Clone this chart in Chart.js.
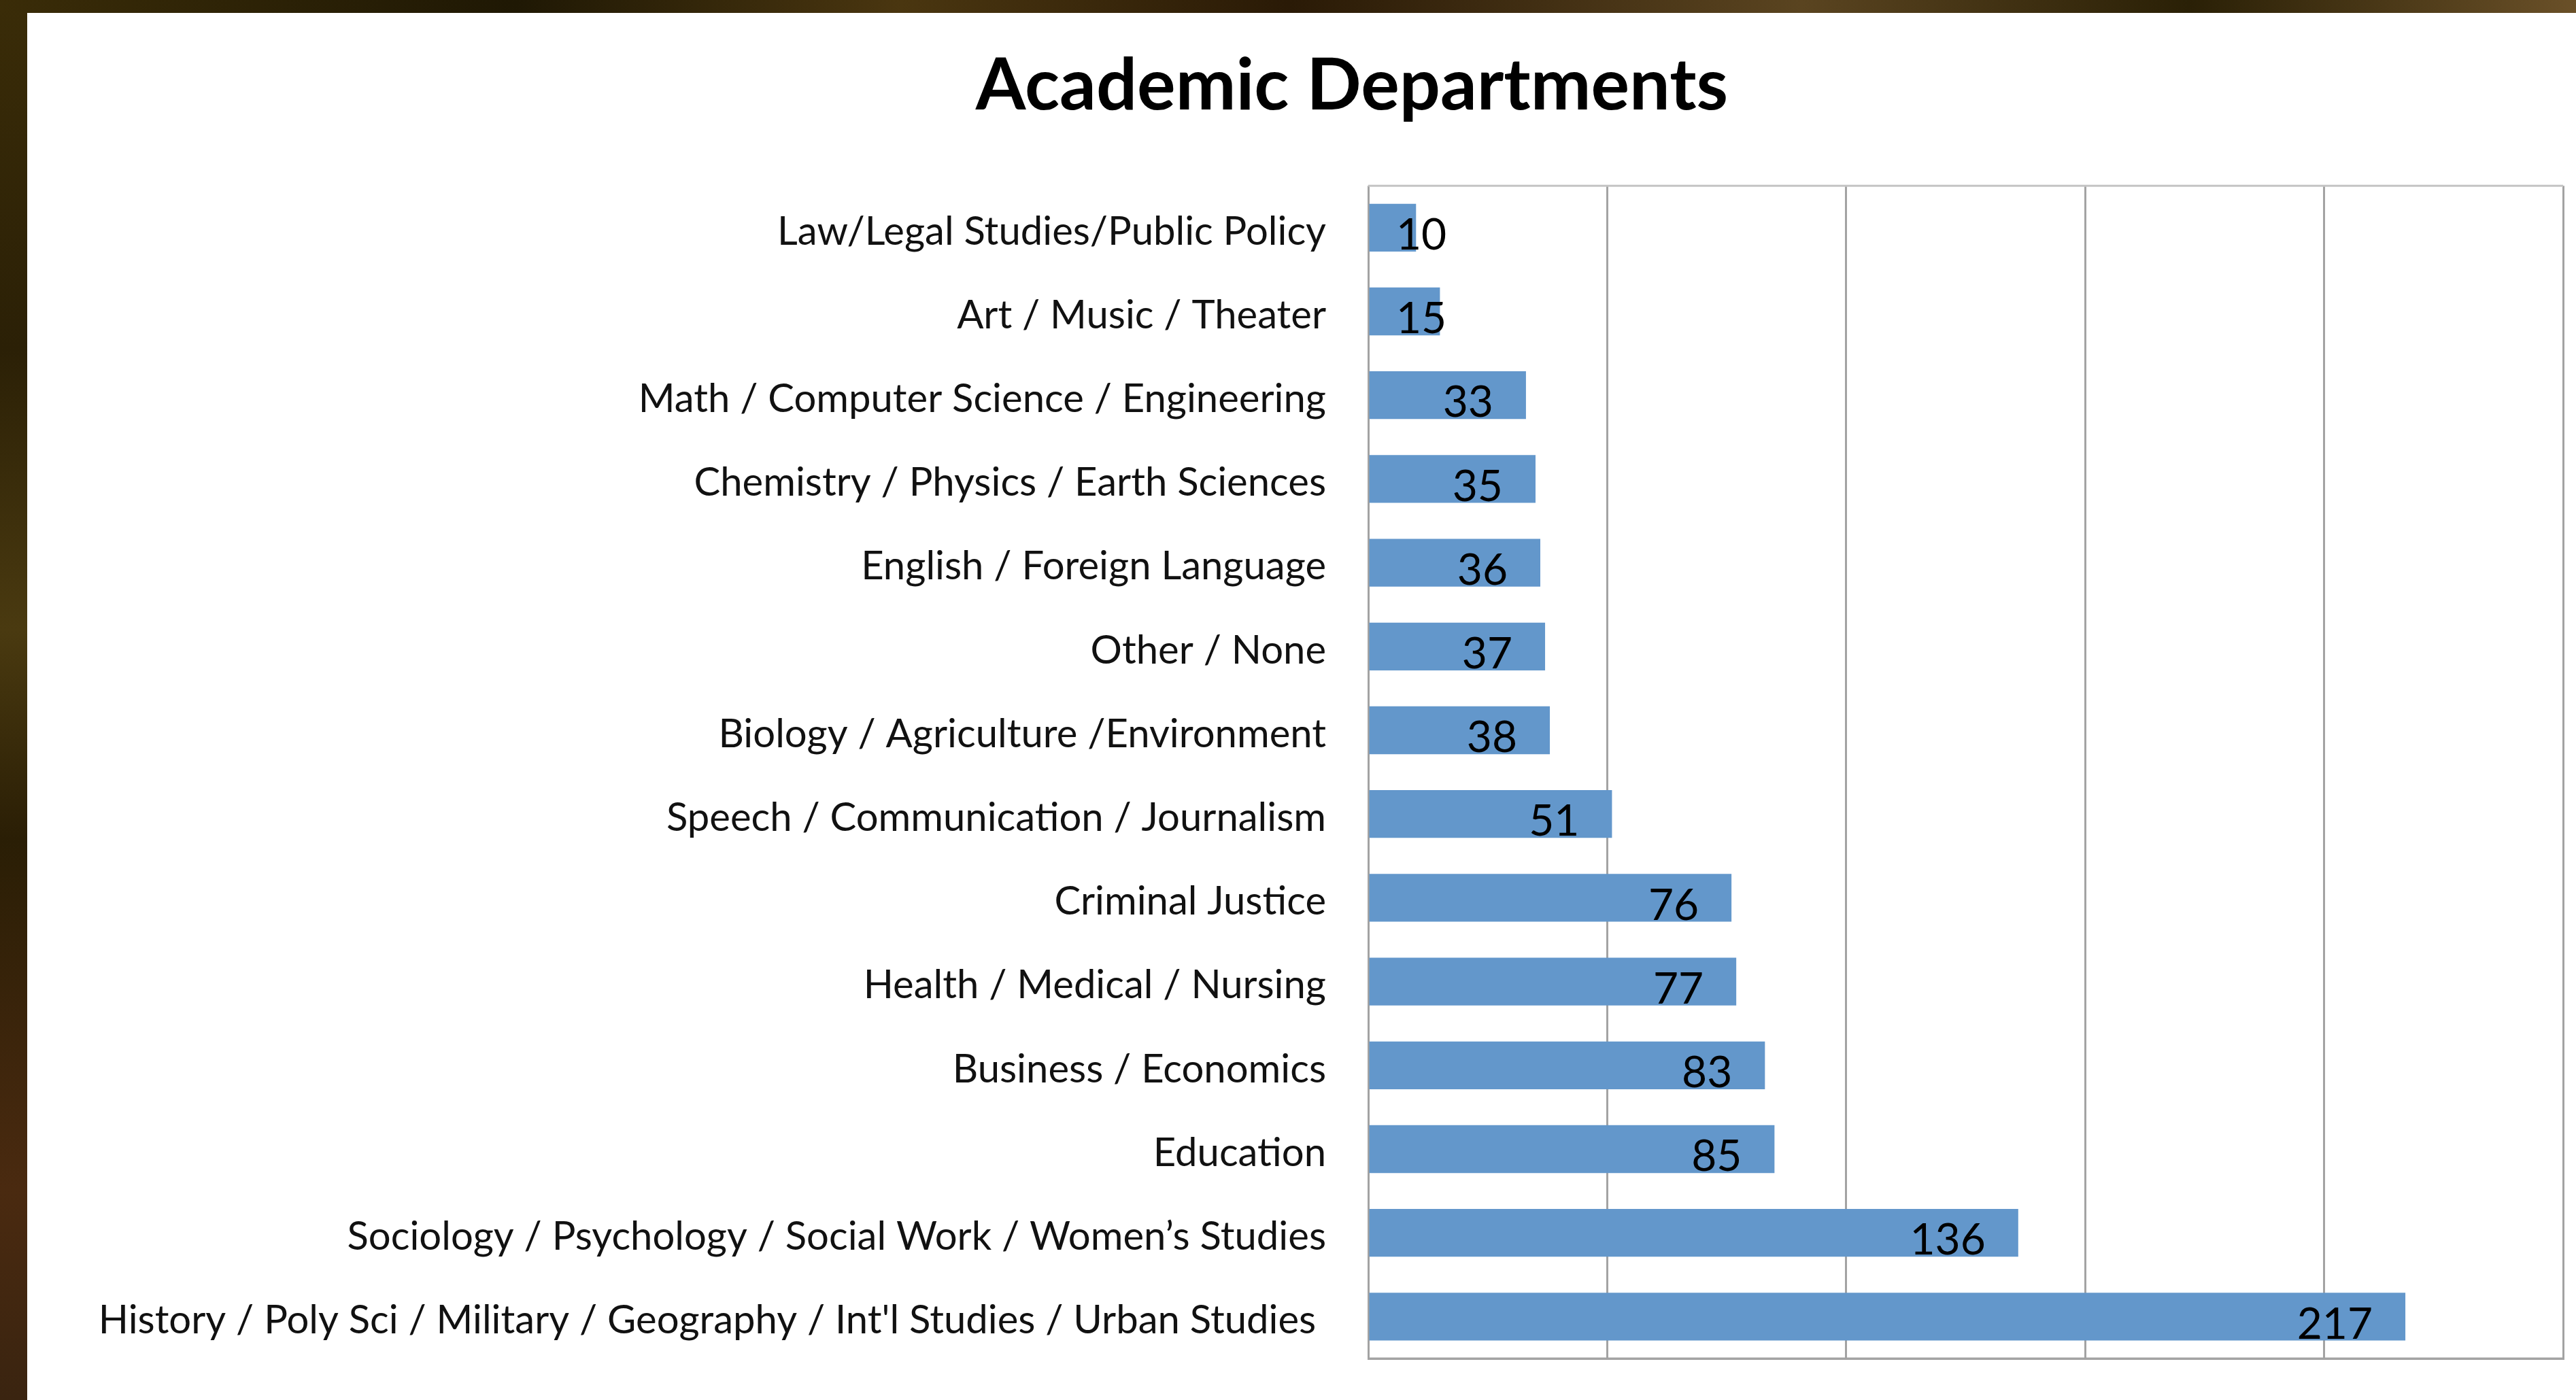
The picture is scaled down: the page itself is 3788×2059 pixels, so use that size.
<!DOCTYPE html>
<html>
<head>
<meta charset="utf-8">
<title>Academic Departments</title>
<script src="https://cdn.jsdelivr.net/npm/chart.js@4.4.1/dist/chart.umd.min.js"></script>
<style>
  html, body {
    margin: 0;
    padding: 0;
    width: 3788px;
    height: 2059px;
    overflow: hidden;
    position: relative;
    background: linear-gradient(180deg, #3a2c08 0%, #2b2006 25%, #4a3a10 45%, #2a1e05 60%, #4a2a10 85%, #3a2410 100%);
  }
  .top-strip {
    position: absolute;
    left: 0;
    top: 0;
    width: 3788px;
    height: 19px;
    background: linear-gradient(90deg, #3a2c08 0%, #1f1804 20%, #4a3610 35%, #2a1a06 50%, #5a4420 70%, #2a2006 85%, #6a5028 100%);
  }
  .panel {
    position: absolute;
    left: 40px;
    top: 19px;
    width: 3748px;
    height: 2040px;
    background: #ffffff;
  }
  #chart {
    position: absolute;
    left: 0;
    top: 19px;
  }
</style>
</head>
<body>
<div class="top-strip"></div>
<div class="panel"></div>
<canvas id="chart" width="3876" height="2040"></canvas>
<script>
const categories = [
  "Law/Legal Studies/Public Policy",
  "Art / Music / Theater",
  "Math / Computer Science / Engineering",
  "Chemistry / Physics / Earth Sciences",
  "English / Foreign Language",
  "Other / None",
  "Biology / Agriculture /Environment",
  "Speech / Communication / Journalism",
  "Criminal Justice",
  "Health / Medical / Nursing",
  "Business / Economics",
  "Education",
  "Sociology / Psychology / Social Work / Women\u2019s Studies",
  "History / Poly Sci / Military / Geography / Int'l Studies / Urban Studies "
];
const counts = [10, 15, 33, 35, 36, 37, 38, 51, 76, 77, 83, 85, 136, 217];
const xTicks = [0, 50, 100, 150, 200, 250];

const barColor = "rgb(99,151,203)";
const gridColor = "#a3a3a3";
const fontName = "Lato, 'Open Sans', sans-serif";

// value labels, inside end of each bar (pushed right when the bar is short)
const valueLabels = {
  id: "valueLabels",
  afterDatasetsDraw(chart) {
    const ctx = chart.ctx;
    const meta = chart.getDatasetMeta(0);
    const left = chart.chartArea.left;
    ctx.save();
    ctx.font = "64px " + fontName;
    ctx.fillStyle = "#000000";
    ctx.textAlign = "right";
    ctx.textBaseline = "alphabetic";
    meta.data.forEach((bar, i) => {
      const txt = String(counts[i]);
      const w = ctx.measureText(txt).width;
      const x = Math.max(bar.x - 48, left + 41 + w);
      ctx.fillText(txt, x, bar.y + bar.height / 2 - 3);
    });
    ctx.restore();
  }
};

// grey frame round the plot area
const plotFrame = {
  id: "plotFrame",
  afterDraw(chart) {
    const a = chart.chartArea;
    const ctx = chart.ctx;
    ctx.save();
    ctx.lineWidth = 3;
    ctx.strokeStyle = "#c4c4c4";
    ctx.beginPath();
    ctx.moveTo(a.left, a.top);
    ctx.lineTo(a.right, a.top);
    ctx.stroke();
    ctx.strokeStyle = gridColor;
    ctx.beginPath();
    ctx.moveTo(a.left, a.bottom);
    ctx.lineTo(a.right, a.bottom);
    ctx.stroke();
    ctx.restore();
  }
};

const ctx = document.getElementById("chart").getContext("2d");
new Chart(ctx, {
  type: "bar",
  data: {
    labels: categories,
    datasets: [{
      label: "Academic Departments",
      data: counts,
      backgroundColor: barColor,
      borderWidth: 0,
      categoryPercentage: 1,
      barPercentage: 0.571
    }]
  },
  options: {
    indexAxis: "y",
    responsive: false,
    animation: false,
    layout: {
      padding: { left: 100, right: 0, top: 0, bottom: 61 }
    },
    plugins: {
      legend: { display: false },
      tooltip: { enabled: false },
      title: {
        display: true,
        text: "Academic Departments",
        color: "#000000",
        font: { family: fontName, size: 106, weight: "bold" },
        padding: { top: 44, bottom: 83 }
      }
    },
    scales: {
      x: {
        min: 0,
        max: 250,
        afterBuildTicks: (axis) => {
          axis.ticks = xTicks.map(v => ({ value: v }));
        },
        afterFit: (axis) => { axis.height = 0; },
        ticks: { display: false },
        grid: { color: gridColor, lineWidth: 3, drawTicks: false },
        border: { display: true, color: gridColor, width: 3 }
      },
      y: {
        afterFit: (axis) => {
          axis.width = 1912;
          axis.paddingTop = 0;
          axis.paddingBottom = 0;
        },
        ticks: {
          color: "#111111",
          padding: 62,
          labelOffset: 6,
          font: { family: fontName, size: 58 }
        },
        grid: { display: false, drawTicks: false },
        border: { display: false }
      },
      // empty spacer on the right, the canvas runs past the window edge
      spacer: {
        type: "category",
        position: "right",
        afterFit: (axis) => {
          axis.width = 107;
          axis.paddingTop = 0;
          axis.paddingBottom = 0;
        },
        ticks: { display: false },
        grid: { display: false, drawTicks: false },
        border: { display: false }
      }
    }
  },
  plugins: [valueLabels, plotFrame]
});
</script>
</body>
</html>
